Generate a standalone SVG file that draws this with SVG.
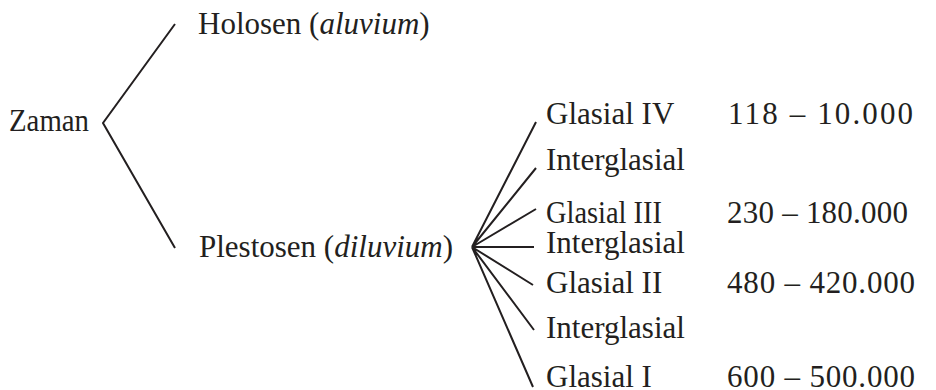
<svg xmlns="http://www.w3.org/2000/svg" width="936" height="390" viewBox="0 0 936 390">
<style>
.ln{stroke:#231f20;stroke-width:2;fill:none;stroke-linecap:butt}
</style>
<rect width="936" height="390" fill="#fff"/>
<g id="connectors">
<path class="ln" d="M175,24 L103,123 L175,248"/>
<path class="ln" d="M536,122 L472,247 M536,168 L472,247 M536,209 L472,247 M534,247 L472,247 M533,285 L472,247 M534,330 L472,247 M533,387 L472,247"/>
</g>
<g font-family="Liberation Serif" font-size="31" fill="#231f20">
<g id="zaman"><text x="9" y="131" textLength="80" lengthAdjust="spacingAndGlyphs">Zaman</text></g>
<g id="holosen"><text x="198" y="34">Holosen (<tspan font-style="italic">aluvium</tspan>)</text></g>
<g id="plestosen"><text x="199" y="257">Plestosen (<tspan font-style="italic">diluvium</tspan>)</text></g>
<g id="glasial4"><text x="546" y="124">Glasial IV</text><text x="728" y="124" textLength="185" lengthAdjust="spacing">118 – 10.000</text></g>
<g id="interglasial1"><text x="546" y="170">Interglasial</text></g>
<g id="glasial3"><text x="546" y="223" textLength="116" lengthAdjust="spacingAndGlyphs">Glasial III</text><text x="727" y="223" textLength="181" lengthAdjust="spacing">230 – 180.000</text></g>
<g id="interglasial2"><text x="546" y="253">Interglasial</text></g>
<g id="glasial2"><text x="546" y="293">Glasial II</text><text x="727" y="293" textLength="188" lengthAdjust="spacing">480 – 420.000</text></g>
<g id="interglasial3"><text x="546" y="338">Interglasial</text></g>
<g id="glasial1"><text x="546" y="387">Glasial I</text><text x="727" y="387" textLength="188" lengthAdjust="spacing">600 – 500.000</text></g>
</g>
</svg>
